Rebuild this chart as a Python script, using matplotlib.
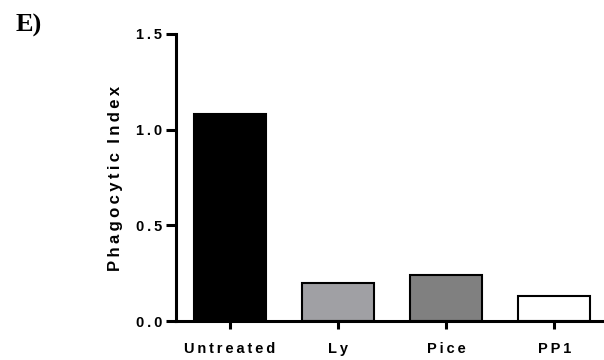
import matplotlib.pyplot as plt

# Phagocytic index per treatment
groups = ["Untreated", "Ly", "Pice", "PP1"]
index_values = [1.08, 0.20, 0.24, 0.13]
bar_colors = ["#000000", "#a0a0a4", "#808080", "#ffffff"]
y_ticks = [0.0, 0.5, 1.0, 1.5]
y_tick_labels = ["0.0", "0.5", "1.0", "1.5"]

TS = "\u2009"  # thin space for the wide letter tracking


def spaced(s):
    return TS.join(s)


plt.rcParams["font.family"] = ["Liberation Sans", "DejaVu Sans"]

fig = plt.figure(figsize=(6.04, 3.6), dpi=100)
ax = fig.add_axes([0.2914, 0.1083, 0.7086, 0.7973])

x = list(range(len(groups)))
ax.bar(x, index_values, width=0.667, color=bar_colors,
       edgecolor="black", linewidth=1.5, zorder=2)

ax.set_xlim(-0.5, 3.46)
ax.set_ylim(0, 1.5)
ax.set_yticks(y_ticks)
ax.set_yticklabels([spaced(t) for t in y_tick_labels],
                   fontsize=10.5, fontweight="bold")
ax.set_xticks(x)
ax.set_xticklabels([spaced(g) for g in groups],
                   fontsize=10.5, fontweight="bold")

for side in ["top", "right"]:
    ax.spines[side].set_visible(False)
for side in ["left", "bottom"]:
    ax.spines[side].set_linewidth(2.2)

ax.tick_params(axis="y", length=7, width=2.2, pad=3)
ax.tick_params(axis="x", length=6, width=2.2, pad=9)

# y-axis title placed on the figure so it sits where it should
fig.text(0.192, 0.503, spaced("Phagocytic") + "  " + spaced("Index"),
         fontsize=12, fontweight="bold", rotation=90,
         ha="center", va="center")

fig.text(0.025, 0.93, "E)", family=["Liberation Serif", "DejaVu Serif"],
         fontsize=19, fontweight="bold", ha="left", va="center")

fig.savefig("out.png", dpi=100)
